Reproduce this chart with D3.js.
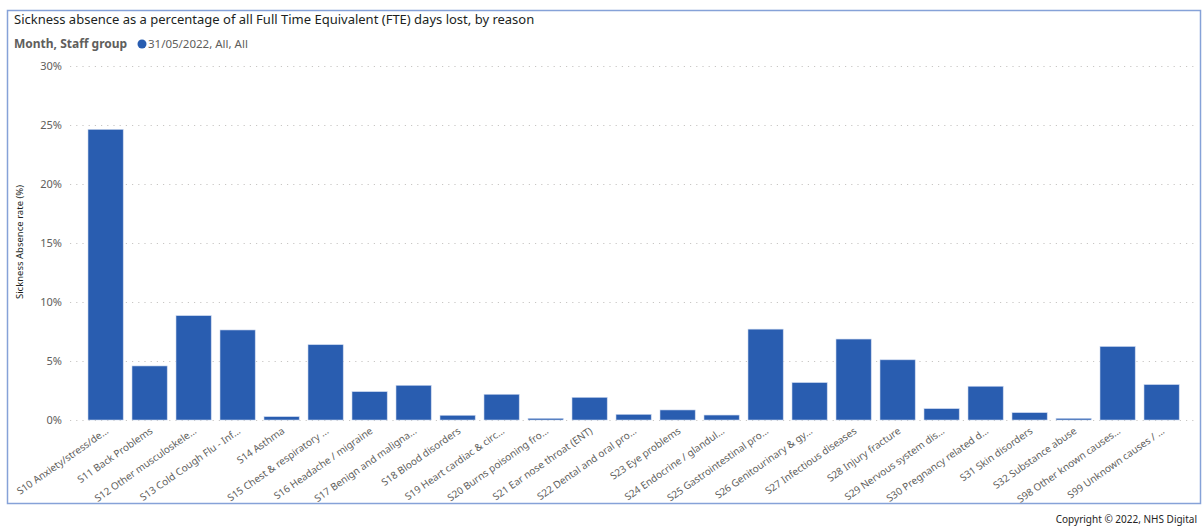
<!DOCTYPE html>
<meta charset="utf-8">
<style>
body {
    margin: 0;
    background: #fff;
}
text {
    font-family: "Noto Sans", "Open Sans", sans-serif;
}
.grid line {
    stroke: #c8c6c4;
    stroke-width: 1px;
    stroke-dasharray: 1.2, 5;
}
.bar {
    fill: #295db0;
    stroke: #c9d6ee;
    stroke-width: 0.6px;
}
</style>
<body>
    <script src="https://cdn.jsdelivr.net/npm/d3@7"></script>
    <script>
        const width = 1203;
        const height = 527;

        const reasons = [
            "S10 Anxiety/stress/de...", "S11 Back Problems", "S12 Other musculoskele...",
            "S13 Cold Cough Flu - Inf...", "S14 Asthma", "S15 Chest & respiratory ...",
            "S16 Headache / migraine", "S17 Benign and maligna...", "S18 Blood disorders",
            "S19 Heart cardiac & circ...", "S20 Burns poisoning fro...", "S21 Ear nose throat (ENT)",
            "S22 Dental and oral pro...", "S23 Eye problems", "S24 Endocrine / glandul...",
            "S25 Gastrointestinal pro...", "S26 Genitourinary & gy...", "S27 Infectious diseases",
            "S28 Injury fracture", "S29 Nervous system dis...", "S30 Pregnancy related d...",
            "S31 Skin disorders", "S32 Substance abuse", "S98 Other known causes...",
            "S99 Unknown causes / ..."
        ];
        const absenceRate = [
            24.63, 4.58, 8.84, 7.63, 0.28, 6.38, 2.4, 2.94, 0.4, 2.18, 0.14, 1.92,
            0.48, 0.85, 0.42, 7.7, 3.17, 6.86, 5.1, 0.96, 2.86, 0.62, 0.14, 6.23, 3.0
        ];
        const yTicks = [0, 5, 10, 15, 20, 25, 30];

        const data = reasons.map(function(r, i) {
            return { reason: r, value: absenceRate[i] };
        });

        const svg = d3.select("body").append("svg")
            .attr("width", width)
            .attr("height", height);

        // visual frame
        svg.append("rect")
            .attr("x", 7.5)
            .attr("y", 10.5)
            .attr("width", 1193)
            .attr("height", 493)
            .attr("fill", "#fff")
            .attr("stroke", "#86a2d8")
            .attr("stroke-width", 1.5);

        svg.append("text")
            .attr("x", 14)
            .attr("y", 24)
            .attr("font-size", 13)
            .attr("fill", "#201f1e")
            .text("Sickness absence as a percentage of all Full Time Equivalent (FTE) days lost, by reason");

        const legend = svg.append("g");
        legend.append("text")
            .attr("x", 14)
            .attr("y", 48)
            .attr("font-size", 12)
            .attr("font-weight", "bold")
            .attr("fill", "#605e5c")
            .text("Month, Staff group");
        legend.append("circle")
            .attr("cx", 142)
            .attr("cy", 44)
            .attr("r", 4.5)
            .attr("fill", "#295db0");
        legend.append("text")
            .attr("x", 148)
            .attr("y", 48)
            .attr("font-size", 11.5)
            .attr("fill", "#605e5c")
            .text("31/05/2022, All, All");

        const x = d3.scaleBand()
            .domain(reasons)
            .range([83.6, 1183.6])
            .paddingInner(0.2)
            .paddingOuter(0.1);

        const y = d3.scaleLinear()
            .domain([0, 30])
            .range([420, 66]);

        const grid = svg.append("g").attr("class", "grid");
        grid.selectAll("line")
            .data(yTicks)
            .enter()
            .append("line")
            .attr("x1", 70)
            .attr("x2", 1195)
            .attr("y1", function(d) { return y(d) + 0.5; })
            .attr("y2", function(d) { return y(d) + 0.5; });

        const yAxis = svg.append("g")
            .attr("transform", "translate(64,0)")
            .call(d3.axisLeft(y)
                .tickValues(yTicks)
                .tickSize(0)
                .tickPadding(2)
                .tickFormat(function(d) { return d + "%"; }));
        yAxis.select(".domain").remove();
        yAxis.selectAll("text")
            .attr("font-size", 11)
            .attr("fill", "#605e5c")
            .style("font-family", "\"Noto Sans\", sans-serif");

        svg.append("text")
            .attr("transform", "translate(23,242) rotate(-90)")
            .attr("text-anchor", "middle")
            .attr("font-size", 9.5)
            .attr("fill", "#201f1e")
            .text("Sickness Absence rate (%)");

        svg.append("g")
            .selectAll("rect")
            .data(data)
            .enter()
            .append("rect")
            .attr("class", "bar")
            .attr("x", function(d) { return x(d.reason); })
            .attr("y", function(d) { return y(d.value); })
            .attr("width", x.bandwidth())
            .attr("height", function(d) { return y(0) - y(d.value); });

        const xAxis = svg.append("g")
            .attr("transform", "translate(0,420)")
            .call(d3.axisBottom(x).tickSize(0).tickPadding(0));
        xAxis.select(".domain").remove();
        xAxis.selectAll("text")
            .attr("text-anchor", "end")
            .attr("font-size", 10)
            .attr("fill", "#605e5c")
            .style("font-family", "\"Noto Sans\", sans-serif")
            .attr("dy", "0.3em")
            .attr("transform", "translate(2,10) rotate(-35)");

        svg.append("text")
            .attr("x", 1197)
            .attr("y", 523)
            .attr("text-anchor", "end")
            .attr("font-size", 10)
            .attr("fill", "#252423")
            .text("Copyright © 2022, NHS Digital");
    </script>
</body>
